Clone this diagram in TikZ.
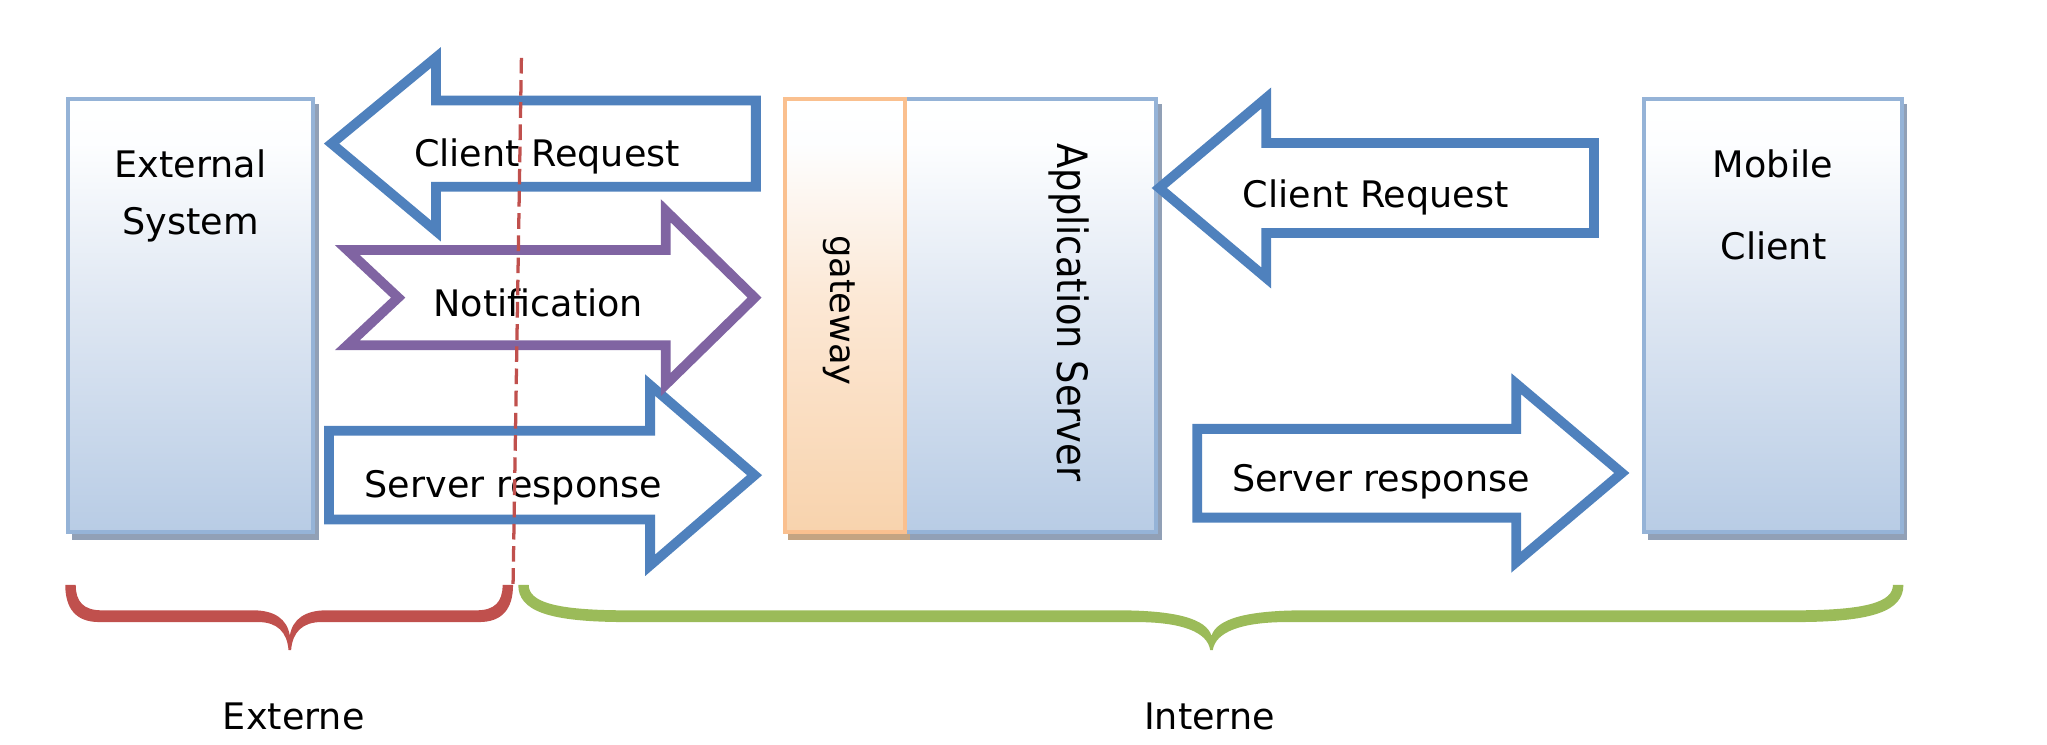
\documentclass[tikz,border=0pt]{standalone}
\usepackage{fontspec}
\setmainfont{DejaVu Sans}
\newfontfamily\narrowfont[FakeStretch=0.88]{DejaVu Sans}
\usetikzlibrary{calc,backgrounds}
\definecolor{boxborder}{RGB}{149,179,215}
\definecolor{boxbottom}{RGB}{184,204,229}
\definecolor{boxmid}{RGB}{224,232,243}
\definecolor{boxtop}{RGB}{253,254,255}
\definecolor{boxshadow}{RGB}{145,160,182}
\definecolor{gwborder}{RGB}{250,192,143}
\definecolor{gwbottom}{RGB}{248,211,173}
\definecolor{gwmid}{RGB}{252,232,213}
\definecolor{gwshadow}{RGB}{196,164,130}
\definecolor{arrblue}{RGB}{79,129,189}
\definecolor{arrpurple}{RGB}{128,100,162}
\definecolor{bracered}{RGB}{192,80,77}
\definecolor{bracegreen}{RGB}{155,187,89}
\pgfdeclareverticalshading{sysshade}{100bp}{color(0bp)=(boxbottom); color(25bp)=(boxbottom); color(52bp)=(boxmid); color(70bp)=(boxtop); color(75bp)=(white); color(100bp)=(white)}
\pgfdeclareverticalshading{gwshade}{100bp}{color(0bp)=(gwbottom); color(25bp)=(gwbottom); color(52bp)=(gwmid); color(70bp)=(boxtop); color(75bp)=(white); color(100bp)=(white)}
\begin{document}
\begin{tikzpicture}[x=1pt,y=-1pt,
  sysbox/.style={draw=boxborder,line width=3pt,shading=sysshade,inner sep=0pt,minimum height=331.5pt},
  gwbox/.style={draw=gwborder,line width=3pt,shading=gwshade,inner sep=0pt,minimum height=331.5pt},
  bluearrow/.style={draw=arrblue,line width=7.5pt,line join=miter,fill=white},
  purplearrow/.style={draw=arrpurple,line width=7.5pt,line join=miter,fill=white},
  lbl/.style={font=\fontsize{28pt}{34pt}\selectfont,inner sep=0pt,anchor=base,text=black},
  vlbl/.style={inner sep=0pt,anchor=center,rotate=-90,text=black},
  sep/.style={draw=bracered,line width=2.5pt,dash pattern=on 12pt off 5pt},
]
\useasboundingbox (0,0) rectangle (1568,570);

% boxes
\node[sysbox,minimum width=187.7pt] (ext) at (146.15,241.75) {};
\node[sysbox,minimum width=192.8pt] (app) at (789.4,241.75) {};
\node[gwbox,minimum width=92pt] (gw) at (647,241.75) {};
\node[sysbox,minimum width=197.5pt] (mob) at (1358.25,241.75) {};

\begin{scope}[on background layer]
  \foreach \n in {ext,app,mob}
    \fill[boxshadow] ($(\n.north west)+(4,5)$) rectangle ($(\n.south east)+(2.5,5)$);
  \fill[gwshadow] ($(gw.north west)+(4,5)$) rectangle ($(gw.south east)+(2.5,5)$);
\end{scope}

% box labels
\node[lbl] (ext1) at (146,136) {External};
\node[lbl] (ext2) at (146,179.7) {System};
\node[lbl] (mob1) at (1358,136.1) {Mobile};
\node[lbl] (mob2) at (1358.5,198.4) {Client};
\node[vlbl,font=\fontsize{27pt}{32pt}\selectfont] (gwtext) at (642.8,237.8) {gateway};
\node[vlbl,font=\narrowfont\fontsize{32pt}{38pt}\selectfont] (apptext) at (819,239.4) {Application Server};

% block arrows (left side)
\draw[bluearrow] (254,110) -- (334,44) -- (334,77) -- (579,77) -- (579,143) -- (334,143) -- (334,177) -- cycle;
\draw[bluearrow] (252,330) -- (498,330) -- (498,295) -- (578,364) -- (498,433) -- (498,398) -- (252,398) -- cycle;
\draw[purplearrow] (266,191.5) -- (510,191.5) -- (510,161.5) -- (578,228) -- (510,294.5) -- (510,264.5) -- (266,264.5) -- (305,228) -- cycle;

% block arrows (right side)
\draw[bluearrow] (888,144) -- (970,75) -- (970,109.5) -- (1221,109.5) -- (1221,178.5) -- (970,178.5) -- (970,213) -- cycle;
\draw[bluearrow] (917,328.5) -- (1161.5,328.5) -- (1161.5,294) -- (1242.3,362.3) -- (1161.5,430.5) -- (1161.5,396.5) -- (917,396.5) -- cycle;

% arrow labels
\node[lbl] (req1) at (419,127.8) {Client Request};
\node[lbl] (notif) at (412.3,242.7) {Notification};
\node[lbl] (resp1) at (393.3,380.8) {Server response};
\node[lbl] (req2) at (1053.8,159) {Client Request};
\node[lbl] (resp2) at (1057.8,376.2) {Server response};

% boundary line
\coordinate (dtop) at (399.4,44.3);
\coordinate (dbot) at (393,448);
\draw[sep] (dtop) -- (dbot);

% braces
\fill[bracered] (50,448) .. controls (50,466) and (58,476.5) .. (76,476.5) -- (198,476.5)
  .. controls (212,476.5) and (220,484) .. (221,498) -- (223,498)
  .. controls (224,484) and (232,476.5) .. (246,476.5) -- (367,476.5)
  .. controls (385,476.5) and (393,466) .. (393,448) -- (385,448)
  .. controls (385,461) and (379,467.5) .. (365,467.5) -- (250,467.5)
  .. controls (234,467.5) and (224,474) .. (222,487)
  .. controls (220,474) and (210,467.5) .. (194,467.5) -- (78,467.5)
  .. controls (64,467.5) and (58,461) .. (58,448) -- cycle;
\fill[bracegreen] (397,448) .. controls (397,468) and (420,476.5) .. (480,476.5) -- (870,476.5)
  .. controls (905,476.5) and (925,484) .. (927,498) -- (929,498)
  .. controls (931,484) and (951,476.5) .. (986,476.5) -- (1375,476.5)
  .. controls (1435,476.5) and (1458,468) .. (1458,448) -- (1450,448)
  .. controls (1450,461) and (1430,467.5) .. (1375,467.5) -- (1000,467.5)
  .. controls (955,467.5) and (932,474) .. (928,487)
  .. controls (924,474) and (901,467.5) .. (856,467.5) -- (480,467.5)
  .. controls (425,467.5) and (405,461) .. (405,448) -- cycle;

\node[lbl] (externe) at (225,559) {Externe};
\node[lbl] (interne) at (926.5,559) {Interne};
\end{tikzpicture}
\end{document}
